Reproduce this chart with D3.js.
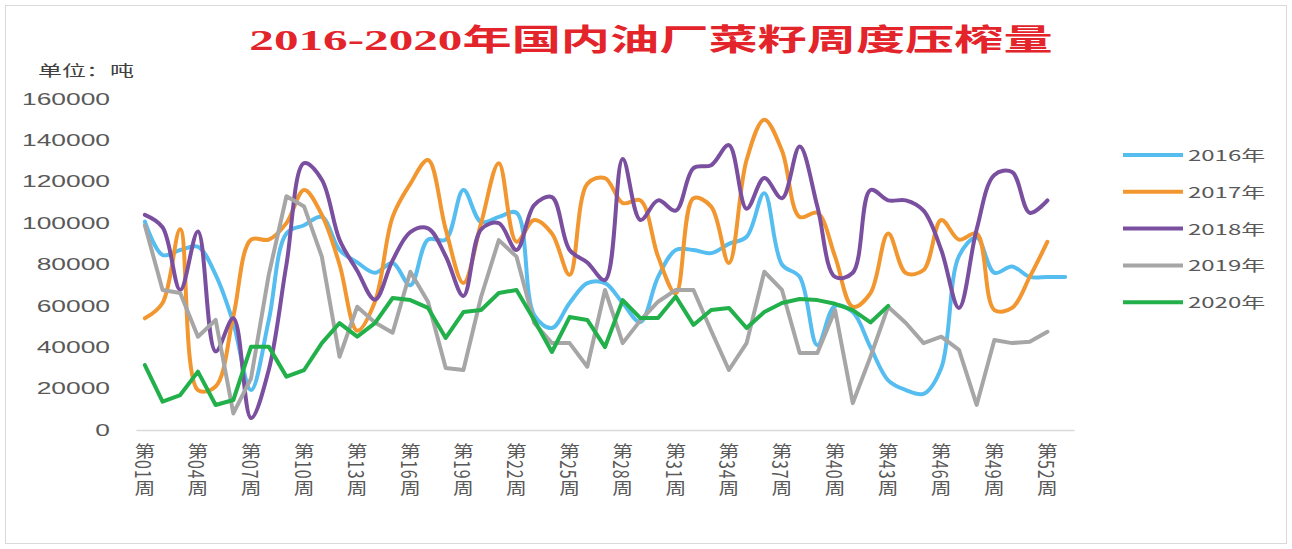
<!DOCTYPE html>
<html>
<head>
<meta charset="utf-8">
<script src="https://cdn.jsdelivr.net/npm/d3@7"></script>
<style>
  body { margin: 0; background: #fff; }
  svg { display: block; }
</style>
</head>
<body>
<svg id="chart" width="1292" height="549"></svg>
<script>
// Week categories
const weeks = ["01","02","03","04","05","06","07","08","09","10",
               "11","12","13","14","15","16","17","18","19","20",
               "21","22","23","24","25","26","27","28","29","30",
               "31","32","33","34","35","36","37","38","39","40",
               "41","42","43","44","45","46","47","48","49","50",
               "51","52","53"];
const xTickWeeks = ["01","04","07","10","13","16","19","22","25","28",
                    "31","34","37","40","43","46","49","52"];
const yTicks = [0, 20000, 40000, 60000, 80000, 100000, 120000, 140000, 160000];
const seriesNames = ["2016年", "2017年", "2018年", "2019年", "2020年"];

// Weekly crush volume, tonnes
const s2016 = [100700, 84600, 87000, 88600, 75000, 51700, 19300, 53000, 95000, 99000,
               103000, 87000, 81000, 76000, 80700, 70000, 92000, 92000, 116000, 100500,
               103000, 105000, 55600, 49300, 61400, 71000, 71000, 61400, 52200, 74000,
               87000, 87000, 85500, 90000, 93400, 114500, 80000, 74000, 41000, 60000,
               57000, 40000, 24000, 19300, 17500, 30000, 84000, 93000, 76000, 79000,
               74000, 74000, 74000];
const s2017 = [54000, 61400, 97000, 19300, 21000, 55000, 92000, 92000, 100000, 116000,
               104000, 80000, 48000, 62000, 103000, 119000, 130500, 97000, 71000, 100000,
               129000, 91000, 101500, 95000, 75000, 119000, 121800, 109700, 111000, 83800,
               66000, 112000, 108000, 80700, 130500, 150000, 135000, 103000, 105000, 83800,
               59600, 66200, 95000, 75900, 77300, 101500, 92000, 95000, 58000, 59000,
               74000, 91000];
const s2018 = [104000, 98000, 67700, 96000, 38000, 54000, 5800, 29000, 80000, 129000,
               121000, 92000, 77000, 63000, 82000, 95700, 97500, 84000, 64800, 97000,
               100000, 87000, 108700, 112600, 87000, 81000, 72500, 131000, 101500, 111000,
               106000, 126600, 128000, 137700, 107000, 121800, 112000, 137000, 108000, 74000,
               76000, 116000, 111000, 111000, 106000, 87000, 59000, 97000, 123300, 124700,
               105000, 111000];
const s2019 = [99000, 67700, 66200, 45100, 53200, 8000, 25000, 75000, 113000, 108000,
               83800, 35400, 59600, 52000, 47000, 76500, 62000, 30000, 29000, 64400,
               91800, 83800, 51700, 42000, 42000, 30600, 67700, 42000, 53000, 62000,
               67700, 67700, 48000, 29000, 42000, 76500, 67700, 37200, 37200, 58000,
               13000, 35400, 59600, 51700, 42000, 45100, 38700, 12100, 43500, 42000,
               42700, 47500];
const s2020 = [31400, 13700, 16900, 28200, 12100, 14500, 40300, 40300, 25800, 29000,
               42000, 51700, 45100, 51700, 63800, 62800, 59000, 44500, 57000, 58000,
               66200, 67700, 53200, 37700, 54600, 53200, 40100, 62800, 54100, 54100,
               64500, 50800, 58000, 59000, 49300, 57000, 61400, 63300, 62800, 61000,
               58000, 52000, 60000];

const W = 1292, H = 549;
const svg = d3.select("#chart");
const cjk = "'Noto Sans CJK SC', 'Noto Sans', sans-serif";
const textGray = "#595959";

// outer frame
svg.append("rect")
  .attr("x", 5.5).attr("y", 5.5)
  .attr("width", W - 11).attr("height", H - 11)
  .attr("fill", "#fff").attr("stroke", "#d9d9d9");

// scales
const x = d3.scaleBand().domain(weeks).range([136, 1074]);
const xc = w => x(w) + x.bandwidth() / 2;
const y = d3.scaleLinear().domain([0, 160000]).range([430, 99]);

// title
svg.append("text")
  .attr("transform", "translate(651,50) scale(1.64,1)")
  .attr("text-anchor", "middle")
  .attr("font-family", "'Liberation Serif', 'Noto Sans CJK SC', serif")
  .attr("font-weight", "bold")
  .attr("font-size", 30)
  .attr("fill", "#e3242b")
  .text("2016-2020年国内油厂菜籽周度压榨量");

// unit
svg.append("text")
  .attr("transform", "translate(38,76) scale(1.6,1)")
  .attr("font-family", cjk)
  .attr("font-size", 15)
  .attr("fill", "#404040")
  .text("单位：吨");

// y axis (labels only)
const yAxis = svg.append("g")
  .attr("transform", "translate(136,0)")
  .call(d3.axisLeft(y).tickValues(yTicks).tickSize(0).tickFormat(d3.format("d")));
yAxis.select(".domain").remove();
yAxis.selectAll("text")
  .attr("x", 0)
  .attr("transform", "translate(-26,0) scale(1.65,1)")
  .attr("font-family", "'Liberation Sans', sans-serif")
  .attr("font-size", 16)
  .attr("fill", textGray);

// x axis
const xAxis = svg.append("g")
  .attr("transform", "translate(0,430)")
  .call(d3.axisBottom(x).tickValues(xTickWeeks).tickSize(0).tickFormat(w => "第" + w + "周"));
xAxis.select(".domain").attr("stroke", "#d9d9d9").attr("stroke-width", 1.5);
xAxis.selectAll("text")
  .attr("y", 0).attr("dy", null)
  .attr("text-anchor", "start")
  .style("writing-mode", "vertical-rl")
  .style("letter-spacing", "1px")
  .attr("transform", "translate(0,13) scale(1.3,1)")
  .attr("font-family", cjk)
  .attr("font-size", 16)
  .attr("fill", textGray);

// series lines
const series = [
  { name: seriesNames[0], values: s2016, color: "#56bdf0", curve: d3.curveCatmullRom.alpha(0.5) },
  { name: seriesNames[1], values: s2017, color: "#f2962f", curve: d3.curveCatmullRom.alpha(0.5) },
  { name: seriesNames[2], values: s2018, color: "#7a4f9f", curve: d3.curveCatmullRom.alpha(0.5) },
  { name: seriesNames[3], values: s2019, color: "#a6a6a6", curve: d3.curveLinear },
  { name: seriesNames[4], values: s2020, color: "#22b04a", curve: d3.curveLinear }
];

const plot = svg.append("g");
series.forEach(s => {
  const line = d3.line()
    .x((d, i) => xc(weeks[i]))
    .y(d => y(d))
    .curve(s.curve);
  plot.append("path")
    .datum(s.values)
    .attr("d", line)
    .attr("fill", "none")
    .attr("stroke", s.color)
    .attr("stroke-width", 4)
    .attr("stroke-linejoin", "round")
    .attr("stroke-linecap", "round");
});

// legend
const legend = svg.append("g").attr("transform", "translate(1123,155)");
series.forEach((s, i) => {
  const g = legend.append("g").attr("transform", `translate(0,${i * 36.8})`);
  g.append("line")
    .attr("x1", 0).attr("x2", 60)
    .attr("stroke", s.color).attr("stroke-width", 4);
  g.append("text")
    .attr("transform", "translate(65,6) scale(1.6,1)")
    .attr("font-family", cjk)
    .attr("font-size", 15)
    .attr("fill", textGray)
    .text(s.name);
});
</script>
</body>
</html>
